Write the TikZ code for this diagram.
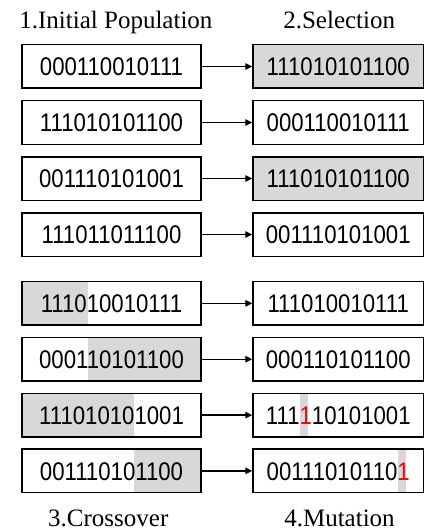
\documentclass[tikz,border=0pt]{standalone}
\usepackage{fontspec}
\setmainfont{Liberation Serif}
\newfontfamily\digitfont[FakeStretch=0.87]{Liberation Sans}
\usetikzlibrary{arrows.meta,backgrounds}
\definecolor{cellgrey}{RGB}{216,216,216}
% a mutated bit: red digit on a narrow grey strip spanning the box height
\newcommand\mutbit[1]{\rlap{\hspace{0.4pt}\textcolor{cellgrey}{\rule[-11.9pt]{8pt}{42.1pt}}}\textcolor{red}{#1}}

\begin{document}
\begin{tikzpicture}[x=1pt,y=-1pt,
  chrom/.style={draw, line width=1.5pt, rectangle, inner sep=0pt,
    text height=30.9pt, text depth=12.6pt,
    font=\digitfont\fontsize{25.5}{25.5}\selectfont},
  lbox/.style={chrom, minimum width=179pt},
  rbox/.style={chrom, minimum width=170.5pt},
  sel/.style={fill=cellgrey},
  link/.style={line width=1.4pt, -{Triangle[length=7pt,width=6.5pt]}},
  title/.style={font=\fontsize{25}{25}\selectfont, anchor=base, inner sep=0pt}]
\useasboundingbox (0,0) rectangle (424,532);

% stage titles
\node[title] (t1) at (115.9,28.3) {1.Initial Population};
\node[title] (t2) at (339.2,28.3) {2.Selection};
\node[title] (t3) at (108.3,526.8) {3.Crossover};
\node[title] (t4) at (339.5,526.8) {4.Mutation};

% initial population -> selection
\node[lbox] (L1) at (111.5,66.5) {000110010111};
\node[rbox,sel] (R1) at (338.25,66.5) {111010101100};
\node[lbox] (L2) at (111.5,122.5) {111010101100};
\node[rbox] (R2) at (338.25,122.5) {000110010111};
\node[lbox] (L3) at (111.5,178.5) {001110101001};
\node[rbox,sel] (R3) at (338.25,178.5) {111010101100};
\node[lbox] (L4) at (111.5,234.5) {111011011100};
\node[rbox] (R4) at (338.25,234.5) {001110101001};

% crossover -> mutation
\node[lbox] (L5) at (111.5,303.3) {111010010111};
\node[rbox] (R5) at (338.25,303.3) {111010010111};
\node[lbox] (L6) at (111.5,359.2) {000110101100};
\node[rbox] (R6) at (338.25,359.2) {000110101100};
\node[lbox] (L7) at (111.5,415.1) {111010101001};
\node[rbox] (R7) at (338.25,415.1) {111\mutbit{1}10101001};
\node[lbox] (L8) at (111.5,470.9) {001110101100};
\node[rbox] (R8) at (338.25,470.9) {00111010110\mutbit{1}};

\foreach \i in {1,...,8} \draw[link] (L\i) -- (R\i);

% crossover segments
\coordinate (cutA) at (87.7,0);
\coordinate (cutB) at (134,0);
\begin{scope}[on background layer]
  \fill[cellgrey] (L5.north west) rectangle (cutA |- L5.south);
  \fill[cellgrey] (cutA |- L6.north) rectangle (L6.south east);
  \fill[cellgrey] (L7.north west) rectangle (cutB |- L7.south);
  \fill[cellgrey] (cutB |- L8.north) rectangle (L8.south east);
\end{scope}
\end{tikzpicture}
\end{document}
